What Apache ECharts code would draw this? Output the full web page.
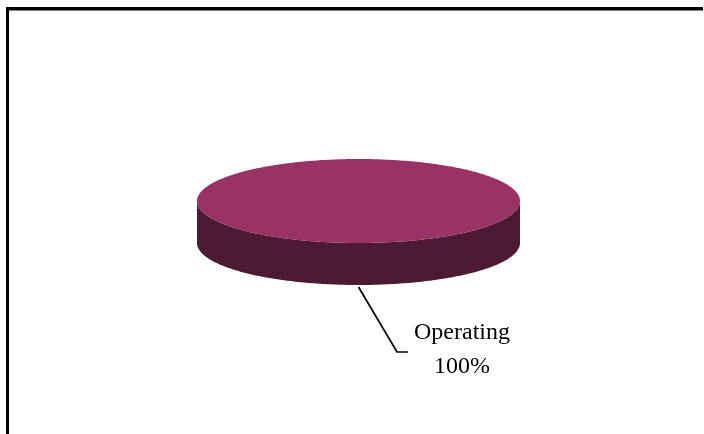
<!DOCTYPE html>
<html>
<head>
<meta charset="utf-8">
<script src="https://cdn.jsdelivr.net/npm/echarts@6/dist/echarts.min.js"></script>
<style>
  html, body { margin: 0; padding: 0; background: #ffffff; }
  #chart { width: 704px; height: 434px; }
</style>
</head>
<body>
<div id="chart"></div>
<script>
// Slice data
const categories = ['Operating'];
const values = [100];
const percentLabels = ['100%'];

const TOP_COLORS = ['#993366'];
const SIDE_COLORS = ['#4d1a33'];

// Disc geometry (pixels)
const CX = 358.5, CY = 201, RX = 161.5, RY = 42, DEPTH = 42;

const total = values.reduce((a, b) => a + b, 0);

function pt(theta, dy) {
  // theta measured clockwise from 12 o'clock
  return [CX + RX * Math.sin(theta), CY - RY * Math.cos(theta) + (dy || 0)];
}

function arcPoints(a0, a1, dy) {
  const pts = [];
  const n = Math.max(2, Math.ceil(Math.abs(a1 - a0) / (Math.PI / 180)));
  for (let i = 0; i <= n; i++) {
    pts.push(pt(a0 + (a1 - a0) * i / n, dy));
  }
  return pts;
}

const chart = echarts.init(document.getElementById('chart'), null, { renderer: 'canvas' });

const option = {
  backgroundColor: '#ffffff',
  animation: false,
  graphic: [
    { type: 'line', shape: { x1: 6, y1: 8.5, x2: 703, y2: 8.5 }, style: { stroke: '#000', lineWidth: 3 } },
    { type: 'line', shape: { x1: 9, y1: 10.5, x2: 703, y2: 10.5 }, style: { stroke: '#808080', lineWidth: 1 } },
    { type: 'line', shape: { x1: 7.5, y1: 7, x2: 7.5, y2: 434 }, style: { stroke: '#000', lineWidth: 3 } }
  ],
  series: [{
    type: 'custom',
    coordinateSystem: 'none',
    data: values.map((v, i) => ({ value: v, name: categories[i] })),
    renderItem: function (params, api) {
      const idx = params.dataIndex;
      let before = 0;
      for (let i = 0; i < idx; i++) before += values[i];
      const a0 = before / total * Math.PI * 2;
      const a1 = (before + values[idx]) / total * Math.PI * 2;
      const children = [];

      // Front wall: visible part lies between 90° and 270°
      const s0 = Math.max(a0, Math.PI / 2);
      const s1 = Math.min(a1, Math.PI * 1.5);
      if (s1 > s0) {
        const topEdge = arcPoints(s0, s1, 0);
        const botEdge = arcPoints(s1, s0, DEPTH);
        children.push({
          type: 'polygon',
          shape: { points: topEdge.concat(botEdge) },
          style: { fill: SIDE_COLORS[idx % SIDE_COLORS.length] }
        });
      }

      // Top face
      const topPts = arcPoints(a0, a1, 0);
      if (a1 - a0 < Math.PI * 2 - 1e-6) topPts.push([CX, CY]);
      children.push({
        type: 'polygon',
        shape: { points: topPts },
        style: { fill: TOP_COLORS[idx % TOP_COLORS.length] }
      });

      // Leader line and label
      const mid = (a0 + a1) / 2;
      const anchor = pt(mid, DEPTH + 2);
      const elbow = [anchor[0] + 38.5, anchor[1] + 65];
      const end = [elbow[0] + 11, elbow[1]];
      children.push({
        type: 'polyline',
        shape: { points: [anchor, elbow, end] },
        style: { stroke: '#000', lineWidth: 1.7, fill: null }
      });
      children.push({
        type: 'text',
        x: end[0] + 54,
        y: end[1] - 2,
        style: {
          text: categories[idx] + '\n' + percentLabels[idx],
          fill: '#000',
          font: '24px "Liberation Serif", "Times New Roman", serif',
          lineHeight: 34,
          align: 'center',
          verticalAlign: 'middle'
        }
      });

      return { type: 'group', children: children };
    }
  }]
};

chart.setOption(option);
</script>
</body>
</html>
